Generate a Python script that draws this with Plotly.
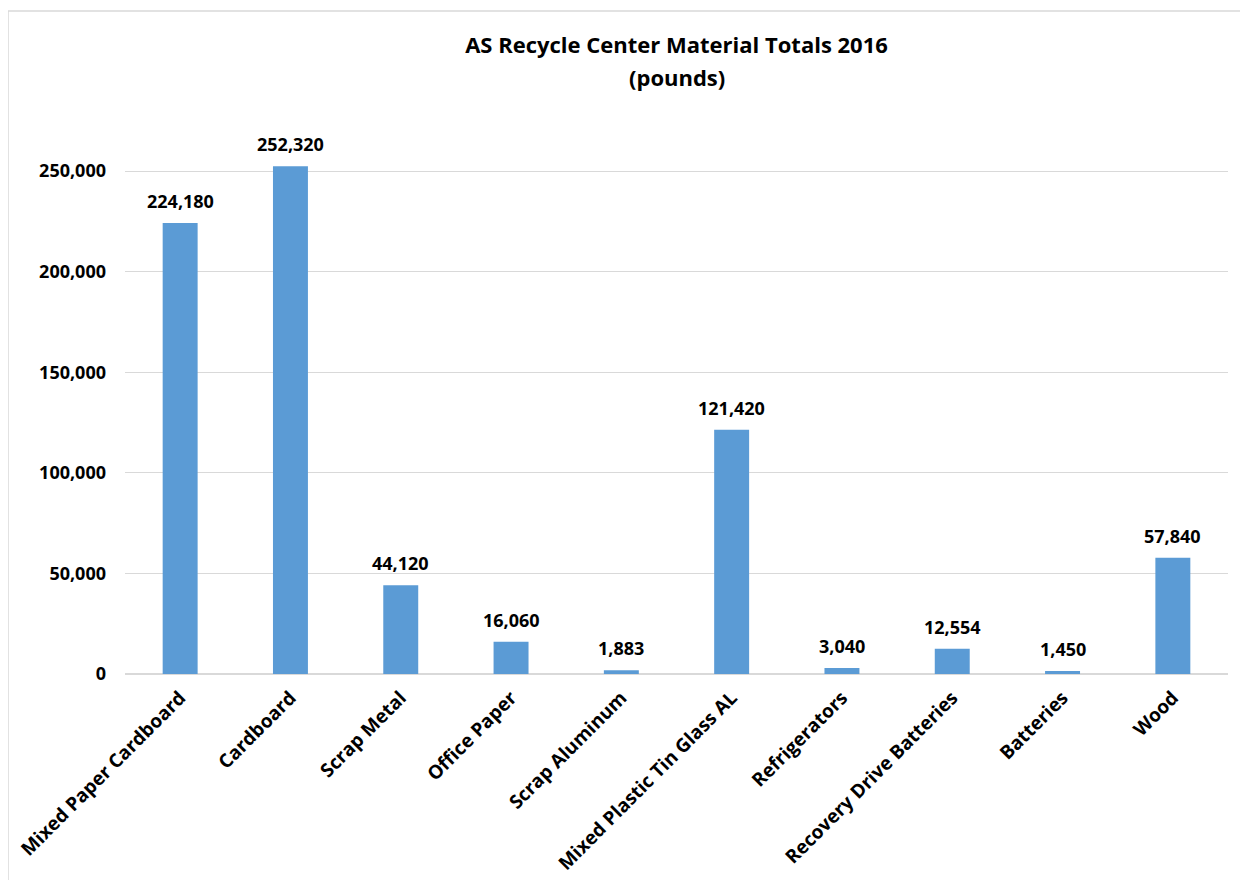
import plotly.graph_objects as go

categories = ["Mixed Paper Cardboard", "Cardboard", "Scrap Metal", "Office Paper",
              "Scrap Aluminum", "Mixed Plastic Tin Glass AL", "Refrigerators",
              "Recovery Drive Batteries", "Batteries", "Wood"]
pounds = [224180, 252320, 44120, 16060, 1883, 121420, 3040, 12554, 1450, 57840]
y_ticks = [0, 50000, 100000, 150000, 200000, 250000]
y_tick_labels = ["0", "50,000", "100,000", "150,000", "200,000", "250,000"]

FONT = "Open Sans"

# figure coordinates (page has 8px body offset)
L, R, T, B = 117, 1220, 122, 666
W, H = 1248, 880
pw, ph = R - L, B - T

fig = go.Figure(go.Bar(
    x=categories, y=pounds,
    marker=dict(color="#5B9BD5", line=dict(width=0)),
    cliponaxis=False,
))

label_font = dict(family=FONT, size=18, color="black", weight="bold")
value_labels = [dict(x=c, y=v, xref="x", yref="y", text=f"{v:,}",
                     showarrow=False, yanchor="bottom", yshift=8,
                     font=label_font)
                for c, v in zip(categories, pounds)]

top = 250000 * (B - T) / (B - (171 - 8))

fig.update_layout(
    width=W, height=H,
    margin=dict(l=L, r=W - R, t=T, b=H - B, autoexpand=False),
    paper_bgcolor="white", plot_bgcolor="white",
    bargap=0.683,
    showlegend=False,
    title=dict(text="AS Recycle Center Material Totals 2016",
               x=0.5, xanchor="center", xref="paper",
               y=1 - 37 / H, yanchor="middle", yref="container",
               font=dict(family=FONT, size=22, color="black", weight="bold")),
    annotations=[dict(text="(pounds)", x=0.5, xref="paper", xanchor="center",
                      y=(B - 69) / ph, yref="paper", yanchor="middle",
                      showarrow=False,
                      font=dict(family=FONT, size=22, color="black", weight="bold"))]
                + value_labels,
    xaxis=dict(tickangle=-45, showgrid=False, showline=False, ticks="",
               ticklabelstandoff=8,
               tickfont=dict(family=FONT, size=19, color="black", weight="bold")),
    yaxis=dict(range=[0, top], tickvals=y_ticks, ticktext=y_tick_labels,
               showgrid=True, gridcolor="#D9D9D9", gridwidth=1,
               zeroline=True, zerolinecolor="#D9D9D9", zerolinewidth=1.5,
               showline=False, ticks="", ticklabelstandoff=18,
               tickfont=dict(family=FONT, size=18, color="black", weight="bold")),
    shapes=[dict(type="rect", xref="paper", yref="paper",
                 x0=-L / pw, x1=1.5, y0=-1.5, y1=(B - 3) / ph,
                 line=dict(color="#D9D9D9", width=1.5), fillcolor="rgba(0,0,0,0)",
                 layer="below")],
)

fig.write_html("out.html")
